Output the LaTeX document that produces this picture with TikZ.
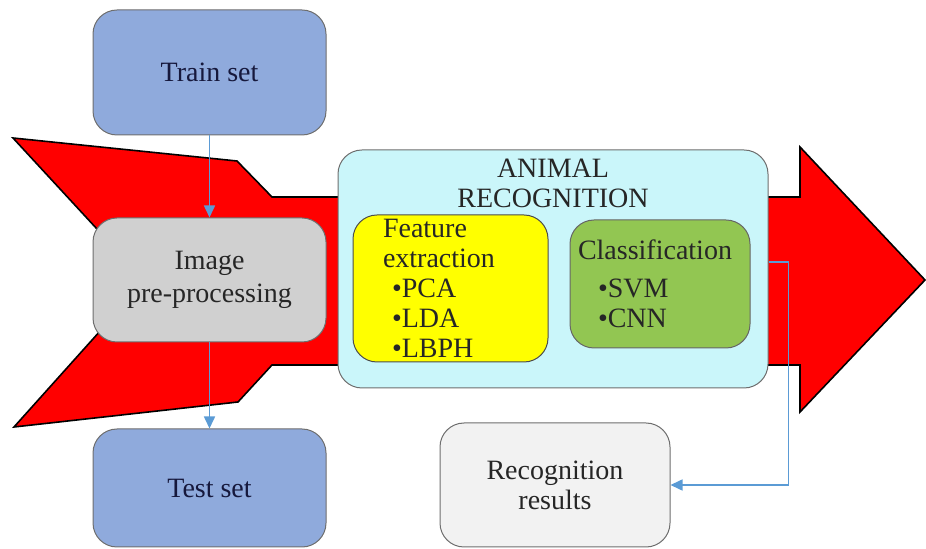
\documentclass[tikz,border=0pt]{standalone}
\usepackage{fontspec}
\setmainfont{Liberation Serif}
\usetikzlibrary{arrows.meta}

\definecolor{arrowred}{RGB}{255,0,0}
\definecolor{setblue}{RGB}{143,170,220}
\definecolor{setnavy}{RGB}{22,24,60}
\definecolor{prepgray}{RGB}{208,208,208}
\definecolor{animcyan}{RGB}{202,246,250}
\definecolor{featyellow}{RGB}{255,255,0}
\definecolor{clsgreen}{RGB}{146,198,82}
\definecolor{resgray}{RGB}{242,242,242}
\definecolor{edgegray}{RGB}{110,110,110}
\definecolor{flowblue}{RGB}{91,155,213}

\tikzset{
    box/.style = {draw=edgegray, line width=0.5pt, rounded corners=12pt, inner sep=0pt,
                  font=\fontsize{14}{15}\selectfont, align=center, text=black!85},
    setbox/.style = {box, fill=setblue, text=setnavy, minimum width=116.5pt},
    flow/.style = {draw=flowblue, line width=0.8pt, -{Triangle[length=6pt,width=5.5pt]}}
}

\begin{document}
\begin{tikzpicture}[x=0.5pt, y=-0.5pt]
    \useasboundingbox (0,0) rectangle (926,549);

    % big red arrow
    \draw [fill=arrowred, line width=0.8pt] (13,138) -- (237,161) -- (272,197) -- (800,197) -- (800,147) -- (925,280)
        -- (800,412) -- (800,365) -- (272,365) -- (238,402) -- (14,427) -- (145,281) -- cycle;

    \node [setbox, minimum height=62.5pt] (train) at (209.5,72.5) {Train set};
    \node [box, fill=prepgray, minimum width=116.5pt, minimum height=62pt] (prep) at (209.5,280) {Image\\[1.5pt]pre-processing};
    \node [setbox, minimum height=59pt] (test) at (209.5,488) {Test set};

    \node [box, fill=animcyan, minimum width=215pt, minimum height=119pt] (anim) at (553,269) {};
    \node [font=\fontsize{14}{15}\selectfont, align=center, text=black!85] (title) at (553,183) {ANIMAL\\RECOGNITION};
    \node [box, fill=featyellow, draw=black!70, minimum width=97.5pt, minimum height=73.5pt,
           inner xsep=15pt, text width=67.5pt, align=left] (feat) at (450.5,288.5)
        {Feature\\extraction\\\hspace*{4.5pt}\textbullet PCA\\\hspace*{4.5pt}\textbullet LDA\\\hspace*{4.5pt}\textbullet LBPH};
    \node [box, fill=clsgreen, draw=black!60, minimum width=90pt, minimum height=64pt,
           inner xsep=4pt, text width=82pt, align=left] (cls) at (660,284)
        {Classification\\[4pt]\hspace*{10pt}\textbullet SVM\\\hspace*{10pt}\textbullet CNN};

    \node [box, fill=resgray, minimum width=115pt, minimum height=62pt] (res) at (555,485) {Recognition\\results};

    \draw [flow] (train) -- (prep);
    \draw [flow] (prep) -- (test);
    \draw [flow] ([yshift=3.5pt]anim.east) -- ++(10pt,0) |- (res);
\end{tikzpicture}
\end{document}
